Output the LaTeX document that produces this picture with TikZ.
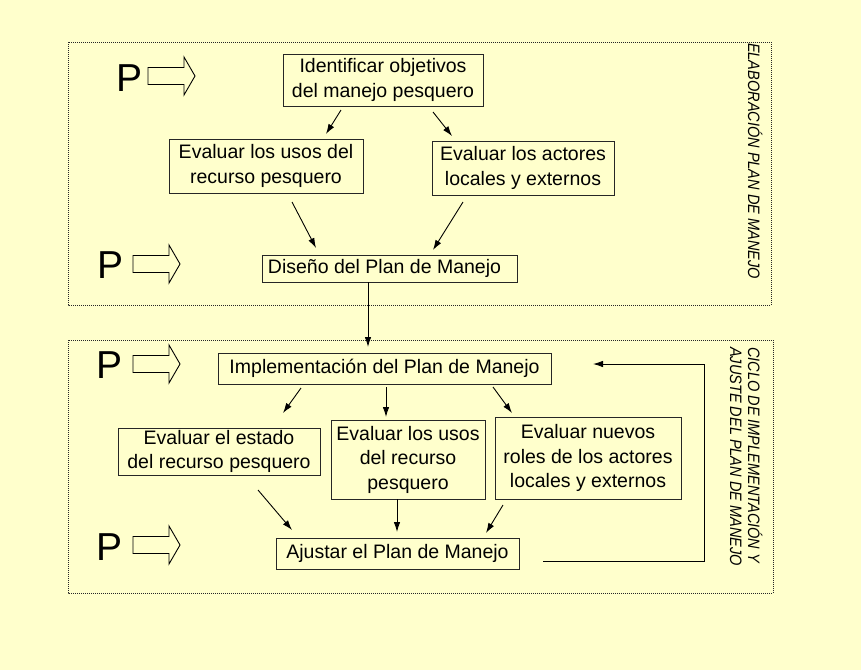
\documentclass[tikz,border=0pt]{standalone}
\usepackage{fontspec}
\setmainfont{Liberation Sans}
\usetikzlibrary{arrows.meta}
\definecolor{bgyellow}{HTML}{FFFFCC}
\newcommand\narrowtxt[1]{\scalebox{0.88}[1]{#1}}
\begin{document}
\begin{tikzpicture}[x=1pt,y=-1pt,
  box/.style={draw=black!85, line width=0.9pt, rectangle, inner sep=0pt, align=center,
    font=\fontsize{19.5}{24.5}\selectfont},
  arr/.style={-{Latex[length=10pt,width=6.5pt]}, line width=0.9pt},
  framebox/.style={draw=black!85, line width=0.8pt, dash pattern=on 1pt off 1pt},
  hollow/.style={draw=black, line width=0.9pt},
  bigP/.style={font=\fontsize{39}{39}\selectfont, inner sep=0pt, anchor=base west},
  side/.style={font=\fontsize{16.5}{18}\selectfont\itshape, rotate=-90, anchor=north west,
    inner sep=0pt, align=left},
  harrow/.pic={\draw[hollow] (0,-8.5) -- (36,-8.5) -- (36,-19) -- (47,0) -- (36,19) -- (36,8.5) -- (0,8.5) -- cycle;}]
\fill[bgyellow] (0,0) rectangle (861,670);
\useasboundingbox (0,0) rectangle (861,670);

% frames
\draw[framebox] (68,42) rectangle (771,305);
\draw[framebox] (68,340) rectangle (773,593);

% side labels
\node[side] (lab1) at (762.5,43) {\narrowtxt{ELABORACIÓN PLAN DE MANEJO}};
\node[side] (lab2) at (762.5,347) {\narrowtxt{CICLO DE IMPLEMENTACIÓN Y}\\\narrowtxt{AJUSTE DEL PLAN DE MANEJO}};

% P markers
\node[bigP] (p1) at (116,91) {P};
\pic at (148,76) {harrow};
\node[bigP] (p2) at (97,278) {P};
\pic at (133,264) {harrow};
\node[bigP] (p3) at (96,378) {P};
\pic at (133,364) {harrow};
\node[bigP] (p4) at (96,560) {P};
\pic at (133,545) {harrow};

% boxes top
\node[box, minimum width=200pt, minimum height=52pt] (ident) at (383,80) {Identificar objetivos\\del manejo pesquero};
\node[box, minimum width=194pt, minimum height=54pt] (usos1) at (266,166) {Evaluar los usos del\\recurso pesquero};
\node[box, minimum width=182pt, minimum height=54pt] (actores) at (523,168) {Evaluar los actores\\locales y externos};
\node[box, minimum width=255pt, minimum height=27pt] (diseno) at (389.5,268.5) {Diseño del Plan de Manejo\hspace*{10pt}};

% boxes bottom
\node[box, minimum width=333pt, minimum height=31pt] (impl) at (384.5,368.5) {Implementación del Plan de Manejo};
\node[box, minimum width=202pt, minimum height=47pt] (estado) at (219,451.5) {Evaluar el estado\\del recurso pesquero};
\node[box, minimum width=154pt, minimum height=79pt] (usos2) at (408,459.5) {Evaluar los usos\\del recurso\\pesquero};
\node[box, minimum width=186pt, minimum height=82pt] (roles) at (588,458) {Evaluar nuevos\\roles de los actores\\locales y externos};
\node[box, minimum width=243pt, minimum height=31pt] (ajustar) at (397.5,553.5) {Ajustar el Plan de Manejo};

% arrow end points
\coordinate (a1s) at (341,110); \coordinate (a1e) at (326,134);
\coordinate (a2s) at (433,112); \coordinate (a2e) at (452,136);
\coordinate (a3s) at (292,202); \coordinate (a3e) at (316,248);
\coordinate (a4s) at (463,202); \coordinate (a4e) at (433,250);
\coordinate (a5s) at (368,282); \coordinate (a5e) at (368,347);
\coordinate (b1s) at (301,388); \coordinate (b1e) at (283,413);
\coordinate (b2s) at (386,387); \coordinate (b2e) at (386,417);
\coordinate (b3s) at (493,387); \coordinate (b3e) at (512,413);
\coordinate (c1s) at (258,490); \coordinate (c1e) at (292,530);
\coordinate (c2s) at (397,499); \coordinate (c2e) at (397,532);
\coordinate (c3s) at (503,505); \coordinate (c3e) at (486,533);
\coordinate (fb1) at (543,561); \coordinate (fb2) at (704,561);
\coordinate (fb3) at (704,364); \coordinate (fb4) at (593,364);

\draw[arr] (a1s) -- (a1e);
\draw[arr] (a2s) -- (a2e);
\draw[arr] (a3s) -- (a3e);
\draw[arr] (a4s) -- (a4e);
\draw[arr] (a5s) -- (a5e);
\draw[arr] (b1s) -- (b1e);
\draw[arr] (b2s) -- (b2e);
\draw[arr] (b3s) -- (b3e);
\draw[arr] (c1s) -- (c1e);
\draw[arr] (c2s) -- (c2e);
\draw[arr] (c3s) -- (c3e);
\draw[arr] (fb1) -- (fb2) -- (fb3) -- (fb4);
\end{tikzpicture}
\end{document}
